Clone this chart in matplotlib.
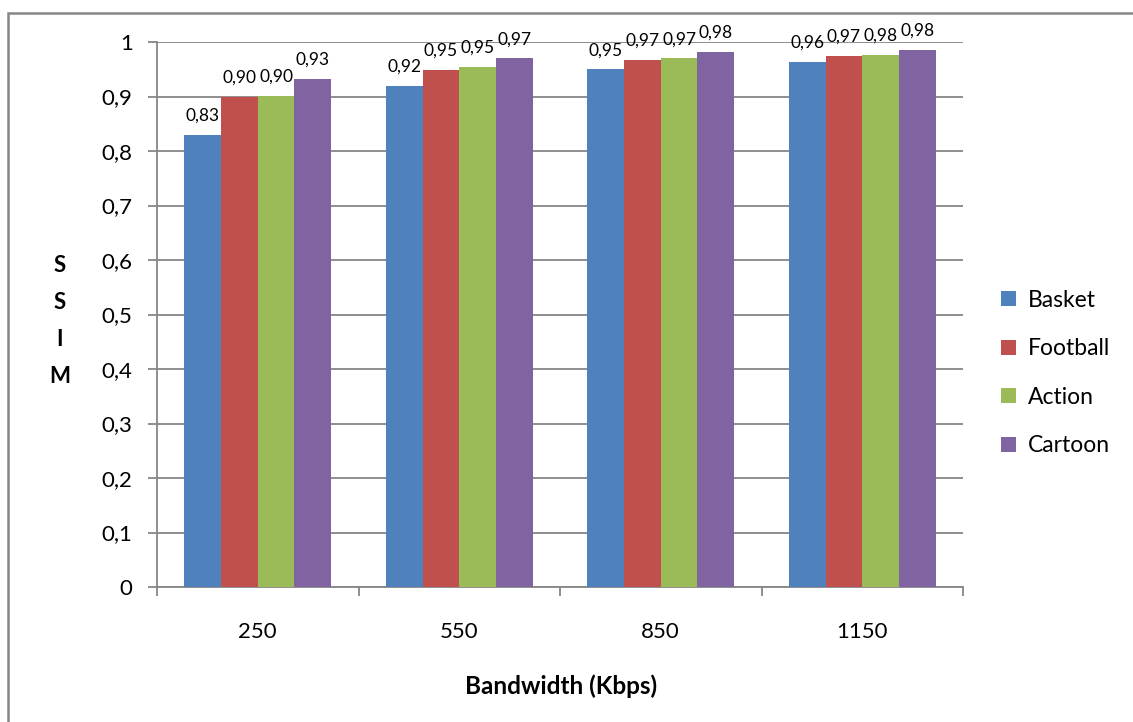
import matplotlib
matplotlib.use("Agg")
import matplotlib.pyplot as plt
from matplotlib.patches import Rectangle
import numpy as np

# SSIM per bandwidth for each video class
bandwidths = ["250", "550", "850", "1150"]
basket = [0.829, 0.920, 0.950, 0.963]
football = [0.900, 0.949, 0.967, 0.974]
action = [0.901, 0.954, 0.970, 0.976]
cartoon = [0.932, 0.970, 0.982, 0.985]
series_names = ["Basket", "Football", "Action", "Cartoon"]
colors = ["#4F81BD", "#C0504D", "#9BBB59", "#8064A2"]
yticks = [0, 0.1, 0.2, 0.3, 0.4, 0.5, 0.6, 0.7, 0.8, 0.9, 1.0]

plt.rcParams["font.family"] = ["Lato", "DejaVu Sans"]

W, H = 1133, 722
fig = plt.figure(figsize=(W / 100, H / 100), dpi=100)
ax = fig.add_axes([157 / W, 1 - 587 / H, (963 - 157) / W, (587 - 42) / H])

grey = "#868686"
x = np.arange(len(bandwidths))
bw = 0.182
series = [basket, football, action, cartoon]
for i, (vals, name, col) in enumerate(zip(series, series_names, colors)):
    bars = ax.bar(x + (i - 1.5) * bw, vals, width=bw, color=col, label=name, zorder=3)
    ax.bar_label(bars, labels=[f"{v:.2f}".replace(".", ",") for v in vals],
                 padding=8, fontsize=12.5, color="black")

ax.set_xlim(-0.5, 3.5)
ax.set_ylim(0, 1)
ax.set_yticks(yticks)
ax.set_yticklabels([("%g" % t).replace(".", ",") for t in yticks], fontsize=16)
ax.set_xticks(x)
ax.set_xticklabels(bandwidths, fontsize=16)
ax.set_xticks(np.arange(-0.5, 4.0, 1.0), minor=True)
ax.tick_params(axis="x", which="major", length=0, pad=25)
ax.tick_params(axis="x", which="minor", length=6.5, width=1.3, color=grey)
ax.tick_params(axis="y", length=6.5, width=1.3, color=grey, pad=11)
ax.yaxis.grid(True, color=grey, linewidth=1.3, zorder=0)
ax.set_axisbelow(True)
for s in ["top", "right"]:
    ax.spines[s].set_visible(False)
for s in ["left", "bottom"]:
    ax.spines[s].set_color(grey)
    ax.spines[s].set_linewidth(1.3)

# vertically stacked axis title
fig.text(60 / W, 1 - 321 / H, "S\nS\nI\nM", ha="center", va="center",
         fontsize=16, fontweight="bold", linespacing=1.95)
fig.text(561 / W, 1 - 686 / H, "Bandwidth (Kbps)", ha="center", va="center",
         fontsize=17.5, fontweight="bold")

fig.legend(loc="center left", bbox_to_anchor=(992 / W, 1 - 373 / H), frameon=False,
           fontsize=16.5, handlelength=0.65, handleheight=0.65, handletextpad=0.5,
           labelspacing=1.2, borderaxespad=0)

# outer chart frame
fig.patches.append(Rectangle((8 / W, -0.1), 1.2, (1 - 13 / H) + 0.1,
                             transform=fig.transFigure, fill=False,
                             edgecolor=grey, linewidth=1.8))

fig.savefig("out.png", dpi=100)
